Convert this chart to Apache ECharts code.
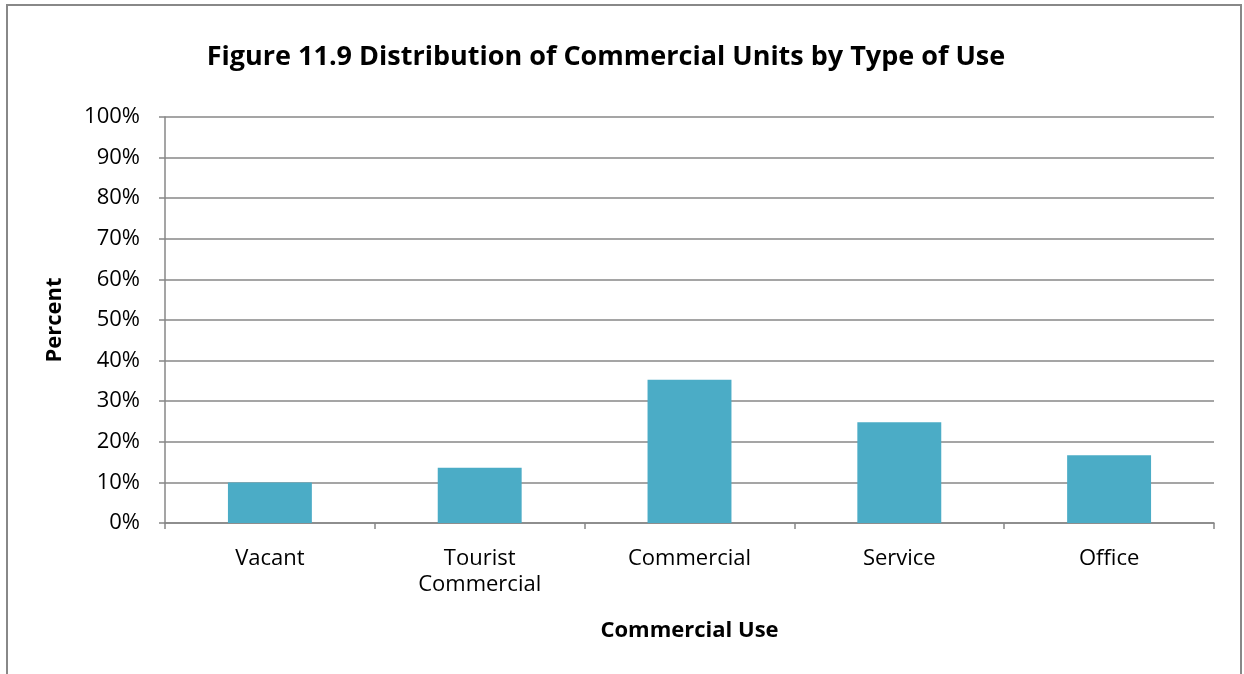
<!DOCTYPE html>
<html>
<head>
<meta charset="utf-8">
<script src="https://cdn.jsdelivr.net/npm/echarts@6/dist/echarts.min.js"></script>
<style>
  html, body { margin: 0; padding: 0; background: #fff; }
  #chart { width: 1244px; height: 674px; }
</style>
</head>
<body>
<div id="chart"></div>
<script>
// Commercial units by type of use (share of all units, %)
const categories = ['Vacant', 'Tourist\nCommercial', 'Commercial', 'Service', 'Office'];
const shares = [10.0, 13.6, 35.3, 24.8, 16.7];
const yTicks = [0, 10, 20, 30, 40, 50, 60, 70, 80, 90, 100];

const FONT = '"Open Sans", "Noto Sans", sans-serif';
const AXIS_GREY = '#878787';

const chart = echarts.init(document.getElementById('chart'), null, { renderer: 'canvas' });

chart.setOption({
  backgroundColor: '#ffffff',
  animation: false,
  graphic: [{
    type: 'rect',
    shape: { x: 7, y: 5, width: 1234, height: 700 },
    style: { fill: 'none', stroke: '#888888', lineWidth: 2 },
    silent: true
  }],
  title: {
    text: 'Figure 11.9 Distribution of Commercial Units by Type of Use',
    left: 601,
    top: 39,
    textAlign: 'center',
    textStyle: { fontFamily: FONT, fontSize: 27, fontWeight: 'bold', color: '#000' }
  },
  grid: { left: 165, right: 30, top: 117, bottom: 151, containLabel: false },
  xAxis: {
    type: 'category',
    data: categories,
    name: 'Commercial Use',
    nameLocation: 'middle',
    nameGap: 97,
    nameTextStyle: { fontFamily: FONT, fontSize: 22, fontWeight: 'bold', color: '#000' },
    axisLine: { lineStyle: { color: AXIS_GREY, width: 1.5 } },
    axisTick: { show: true, length: 6, alignWithLabel: false, lineStyle: { color: AXIS_GREY, width: 1.5 } },
    axisLabel: { fontFamily: FONT, fontSize: 22, color: '#000', margin: 23, lineHeight: 26 }
  },
  yAxis: {
    type: 'value',
    min: 0,
    max: 100,
    interval: 10,
    name: 'Percent',
    nameLocation: 'middle',
    nameGap: 99,
    nameRotate: 90,
    nameTextStyle: { fontFamily: FONT, fontSize: 22, fontWeight: 'bold', color: '#000' },
    axisLine: { show: true, lineStyle: { color: AXIS_GREY, width: 1.5 } },
    axisTick: { show: true, length: 6, lineStyle: { color: AXIS_GREY, width: 1.5 } },
    axisLabel: {
      fontFamily: FONT, fontSize: 22, color: '#000', margin: 25,
      padding: [3, 0, 0, 0],
      formatter: v => (yTicks.includes(v) ? v + '%' : '')
    },
    splitLine: { show: true, lineStyle: { color: AXIS_GREY, width: 1.5 } }
  },
  series: [{
    type: 'bar',
    data: shares,
    barWidth: '40%',
    itemStyle: { color: '#4BACC6' }
  }]
});
</script>
</body>
</html>
